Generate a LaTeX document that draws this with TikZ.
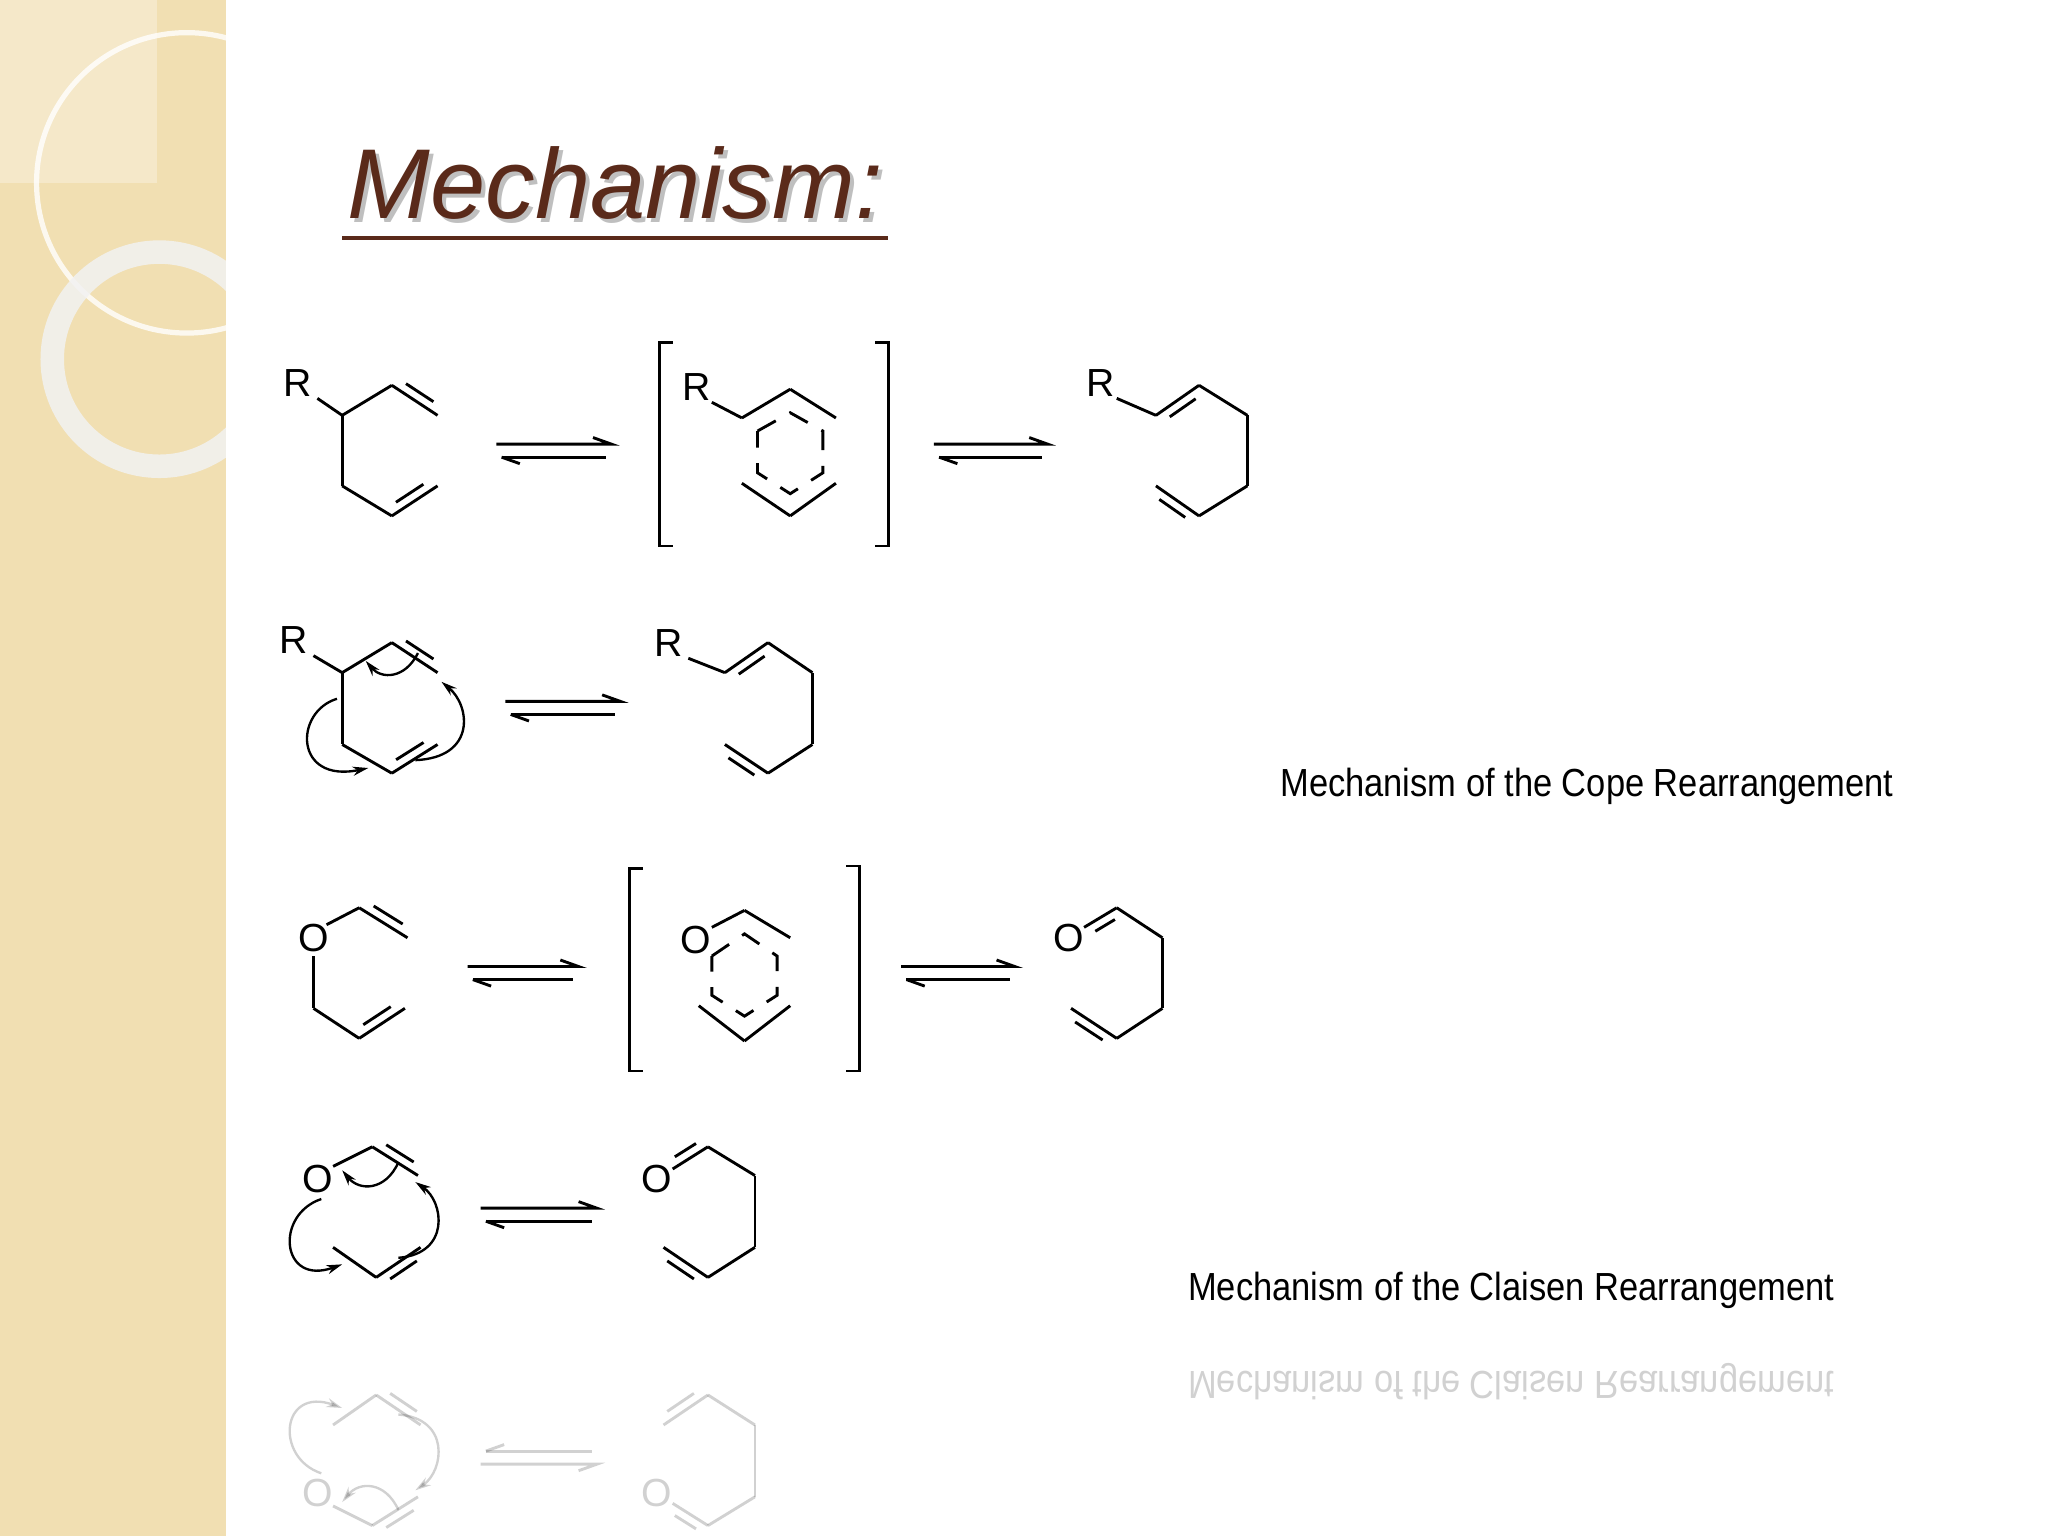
\documentclass[tikz,border=0pt]{standalone}
\usepackage{fontspec}
\setmainfont{Liberation Sans}
\usetikzlibrary{calc,arrows.meta}
\definecolor{panel}{HTML}{F1DFB2}
\definecolor{ttl}{HTML}{5A2A1A}
\newcommand\bd[2]{\draw (#1) -- (#2);}
\newcommand\db[3]{\draw (#1)--(#2); \draw ($(#1)!.2!(#2)!3.5pt!#3:(#2)$) -- ($(#2)!.2!(#1)!3.5pt!-#3:(#1)$);}
\newcommand\eqarr[3]{\draw (#1,#3)--(#2,#3)--($(#2,#3)+(-14,-5)$); \draw ($(#1,#3)+(4,10)$)--($(#2,#3)+(-4,10)$); \draw ($(#1,#3)+(4,10)$)--($(#1,#3)+(18,15)$);}
\newcommand\rowfour{%
  \node[atom] (o4) at (243,903) {O};
  \bd{255,893}{285,878}\db{285,878}{320,900}{90}\db{322,955}{288,978}{90}\bd{288,978}{255,955}
  \draw[cur] (246,918) .. controls (210,930) and (215,985) .. (262,968);
  \draw[cur] (305,890) .. controls (295,912) and (275,912) .. (262,896);
  \draw[cur] (305,963) .. controls (345,960) and (340,920) .. (318,905);
  \eqarr{368}{457}{925}
  \node[atom] (op4) at (503,903) {O};
  \db{515,895}{542,878}{90}\bd{542,878}{578,900}\bd{578,900}{578,955}\bd{578,955}{542,978}\db{542,978}{508,955}{90}
  \node[captext] (c2) at (1157,988) {Mechanism of the Claisen Rearrangement};}
\begin{document}
\begin{tikzpicture}[x=0.5pt,y=-0.5pt,line width=1.1pt,
  atom/.style={font=\fontsize{15}{15}\selectfont,inner sep=0pt},
  captext/.style={font=\fontsize{15}{18}\selectfont,xscale=0.88,inner sep=0pt},
  cur/.style={line width=0.9pt,-{Stealth[length=6pt,width=3.5pt]}}]
\useasboundingbox (0,0) rectangle (1568,1176);
\fill[white] (0,0) rectangle (1568,1176);
\fill[panel] (0,0) rectangle (173,1176);
\fill[white,opacity=0.3] (0,0) rectangle (120,140);
\begin{scope}
\clip (0,0) rectangle (173,1176);
\draw[white,line width=2pt,opacity=0.8] (143,140) circle (115);
\draw[white!90!gray,line width=9pt,opacity=0.85] (122,275) circle (82);
\end{scope}
% title
\node[text=black!25,font=\fontsize{38}{38}\selectfont\itshape] at (474,143) {Mechanism:};
\node[text=ttl,font=\fontsize{38}{38}\selectfont\itshape] (title) at (471,140) {Mechanism:};
\draw[ttl,line width=1.6pt] (262,182)--(680,182);
% row 1
\node[atom] (r1) at (228,293) {R};
\bd{243,305}{262,318}\bd{262,318}{300,295}\db{300,295}{335,318}{90}
\bd{262,318}{262,372}\bd{262,372}{300,395}\db{300,395}{335,372}{90}
\eqarr{380}{468}{340}
\draw (515,262)--(505,262)--(505,418)--(515,418);
\draw (670,262)--(680,262)--(680,418)--(670,418);
\node[atom] (r2) at (533,296) {R};
\bd{545,308}{568,320}\bd{568,320}{605,298}\bd{605,298}{640,320}
\bd{568,370}{605,395}\bd{605,395}{640,370}
\draw[dashed,dash pattern=on 8pt off 6pt] (580,330)--(605,316)--(630,330)--(630,362)--(605,378)--(580,362)--cycle;
\eqarr{715}{802}{340}
\node[atom] (r3) at (843,293) {R};
\bd{855,305}{885,318}\db{885,318}{918,295}{-90}\bd{918,295}{955,318}\bd{955,318}{955,372}\bd{955,372}{918,395}\db{918,395}{885,372}{90}
% row 2
\node[atom] (r4) at (225,490) {R};
\bd{240,502}{262,515}\bd{262,515}{300,492}\db{300,492}{335,515}{90}
\bd{262,515}{262,570}\bd{262,570}{300,592}\db{300,592}{335,570}{90}
\draw[cur] (258,535) .. controls (225,545) and (225,600) .. (282,588);
\draw[cur] (320,500) .. controls (310,520) and (292,520) .. (280,506);
\draw[cur] (318,582) .. controls (365,580) and (360,540) .. (338,522);
\eqarr{387}{475}{537}
\node[atom] (r5) at (512,492) {R};
\bd{527,504}{555,515}\db{555,515}{588,492}{-90}\bd{588,492}{622,515}\bd{622,515}{622,570}\bd{622,570}{588,592}\db{588,592}{555,570}{90}
\node[captext] (c1) at (1215,602) {Mechanism of the Cope Rearrangement};
% row 3
\node[atom] (o1) at (240,718) {O};
\bd{250,708}{275,695}\db{275,695}{312,718}{90}
\bd{240,732}{240,772}\bd{240,772}{275,795}\db{275,795}{310,772}{90}
\eqarr{358}{443}{740}
\draw (492,665)--(482,665)--(482,820)--(492,820);
\draw (648,663)--(658,663)--(658,820)--(648,820);
\node[atom] (o2) at (533,720) {O};
\bd{545,710}{570,697}\bd{570,697}{605,718}
\bd{535,770}{570,797}\bd{570,797}{605,770}
\draw[dashed,dash pattern=on 8pt off 6pt] (545,732)--(570,715)--(595,732)--(595,762)--(570,778)--(545,762)--cycle;
\eqarr{690}{777}{740}
\node[atom] (o3) at (818,718) {O};
\db{830,710}{855,695}{-90}\bd{855,695}{890,718}\bd{890,718}{890,772}\bd{890,772}{855,795}\db{855,795}{820,772}{90}
% row 4
\rowfour
% reflection
\begin{scope}[shift={(0,2046)},yscale=-1,transform shape,opacity=0.18]
\rowfour
\end{scope}
\end{tikzpicture}
\end{document}
